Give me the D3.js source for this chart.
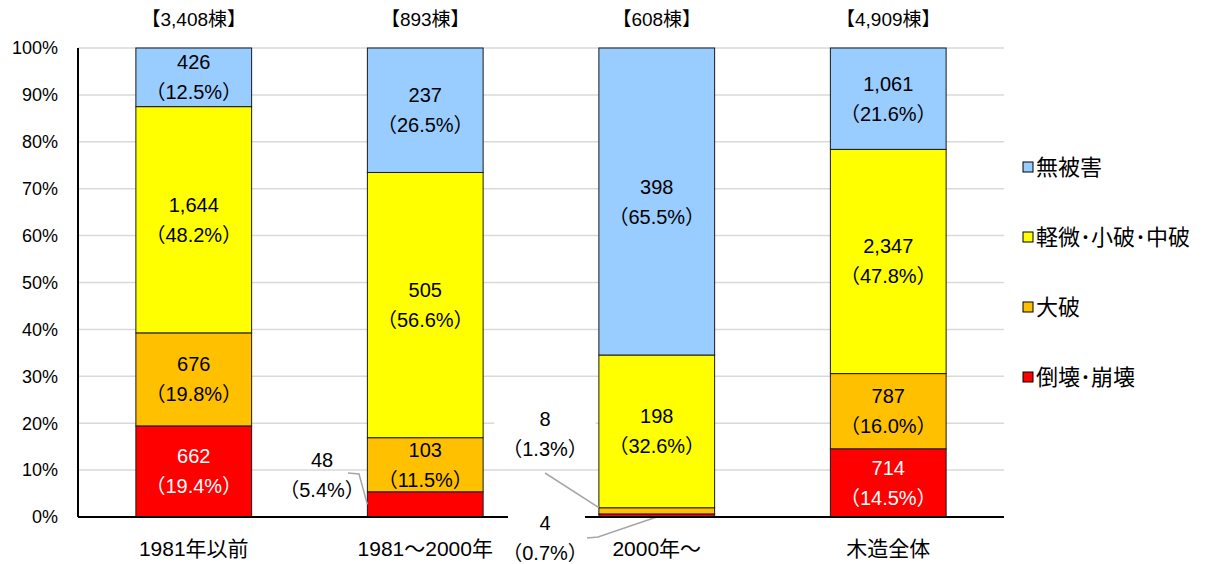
<!DOCTYPE html>
<html>
<head>
<meta charset="utf-8">
<script src="https://cdn.jsdelivr.net/npm/d3@7"></script>
<style>
  body { margin: 0; background: #fff; }
  text { font-family: "Liberation Sans", "Noto Sans CJK JP", sans-serif; }
</style>
</head>
<body>
<div id="chart"></div>
<script>

// categories (construction period) and totals
let categories = ["1981年以前", "1981～2000年", "2000年～", "木造全体"];
let totals = [3408, 893, 608, 4909];

// series, bottom to top
let seriesNames = ["倒壊･崩壊", "大破", "軽微･小破･中破", "無被害"];
let collapse = [662, 48, 4, 714];
let severe = [676, 103, 8, 787];
let minor = [1644, 505, 198, 2347];
let noDamage = [426, 237, 398, 1061];

let yTicks = [0, 10, 20, 30, 40, 50, 60, 70, 80, 90, 100];

let colors = ["#FF0000", "#FFC000", "#FFFF00", "#99CCFF"];

let margin = { top: 48, right: 216, bottom: 47, left: 78 },
	width = 1220 - margin.left - margin.right,
	height = 564 - margin.top - margin.bottom;

let svg = d3.select("#chart")
	.append("svg")
	.attr("width", 1220)
	.attr("height", 564)
	.append("g")
	.attr("transform", "translate(" + margin.left + "," + margin.top + ")");

let x = d3.scaleBand()
	.domain(categories)
	.range([0, width])
	.paddingInner(0.5)
	.paddingOuter(0.25);

let y = d3.scaleLinear()
	.domain([0, 100])
	.range([height, 0]);

// gridlines
svg.append("g")
	.selectAll("line")
	.data(yTicks.slice(1))
	.enter()
	.append("line")
	.attr("x1", 0)
	.attr("x2", width)
	.attr("y1", d => y(d))
	.attr("y2", d => y(d))
	.attr("stroke", "#D9D9D9")
	.attr("stroke-width", 1.5);

// y axis tick labels
svg.append("g")
	.selectAll("text")
	.data(yTicks)
	.enter()
	.append("text")
	.attr("x", -20)
	.attr("y", d => y(d))
	.attr("dy", "0.35em")
	.attr("text-anchor", "end")
	.style("font-size", "18px")
	.attr("fill", "#000")
	.text(d => d + "%");

// build stacked rows
let rows = categories.map(function (c, i) {
	return {
		category: c,
		total: totals[i],
		values: [collapse[i], severe[i], minor[i], noDamage[i]]
	};
});

let segments = [];
rows.forEach(function (r) {
	let acc = 0;
	r.values.forEach(function (v, k) {
		let p0 = acc / r.total * 100;
		acc += v;
		let p1 = acc / r.total * 100;
		segments.push({ category: r.category, k: k, value: v, pct: v / r.total * 100, p0: p0, p1: p1 });
	});
});

svg.append("g")
	.selectAll("rect")
	.data(segments)
	.enter()
	.append("rect")
	.attr("x", d => x(d.category))
	.attr("width", x.bandwidth())
	.attr("y", d => y(d.p1))
	.attr("height", d => y(d.p0) - y(d.p1))
	.attr("fill", d => colors[d.k])
	.attr("stroke", "#1a1a1a")
	.attr("stroke-width", 1);

let fmtN = d3.format(",");
let fmtP = d3.format(".1f");

// labels inside segments (skip the thin ones)
let inner = segments.filter(d => d.pct > 8);
let lab = svg.append("g")
	.selectAll("g")
	.data(inner)
	.enter()
	.append("g")
	.attr("transform", d => "translate(" + (x(d.category) + x.bandwidth() / 2) + "," + y((d.p0 + d.p1) / 2) + ")");

lab.append("text")
	.attr("y", -15)
	.attr("dy", "0.35em")
	.attr("text-anchor", "middle")
	.style("font-size", "20px")
	.attr("fill", d => d.k == 0 ? "#fff" : "#000")
	.text(d => fmtN(d.value));

lab.append("text")
	.attr("y", 15)
	.attr("dy", "0.35em")
	.attr("text-anchor", "middle")
	.style("font-size", "20px")
	.attr("fill", d => d.k == 0 ? "#fff" : "#000")
	.text(d => "（" + fmtP(d.pct) + "%）");

// callout labels for thin segments: [category, series index, label centre x, label centre y, leader line]
let callouts = [
	{ category: "1981～2000年", k: 0, cx: 322, cy: 475, line: [[348, 473], [359, 474]] },
	{ category: "2000年～", k: 1, cx: 545, cy: 434, line: [[545, 473]] },
	{ category: "2000年～", k: 0, cx: 545, cy: 538, line: [[587, 538], [598, 537]] }
];

callouts.forEach(function (c) {
	let seg = segments.find(s => s.category == c.category && s.k == c.k);
	let bx = x(c.category);
	let g = svg.append("g").attr("transform", "translate(" + (-margin.left) + "," + (-margin.top) + ")");
	let bg = g.append("rect").attr("fill", "#fff");
	let t = g.append("g");
	t.append("text")
		.attr("x", c.cx).attr("y", c.cy - 15).attr("dy", "0.35em")
		.attr("text-anchor", "middle").style("font-size", "20px")
		.text(fmtN(seg.value));
	t.append("text")
		.attr("x", c.cx).attr("y", c.cy + 15).attr("dy", "0.35em")
		.attr("text-anchor", "middle").style("font-size", "20px")
		.text("（" + fmtP(seg.pct) + "%）");
	let bb = t.node().getBBox();
	if (c.k == 1) {
		bg.attr("x", bb.x - 8).attr("y", bb.y - 8).attr("width", bb.width + 16).attr("height", bb.height + 16);
	} else if (c.category == "2000年～") {
		bg.attr("x", bb.x + 4).attr("y", bb.y - 4).attr("width", bb.width - 8).attr("height", bb.height + 8);
	}
	// leader line end point at the segment edge
	let endX = margin.left + (c.k == 1 ? bx : (c.category == "2000年～" ? bx + x.bandwidth() / 2 : bx));
	let endY = margin.top + (c.k == 1 ? y(seg.p1) : (c.category == "2000年～" ? y(seg.p0) : y((seg.p0 + seg.p1) / 2)));
	let pts = c.line.concat([[endX, endY]]);
	g.append("path")
		.attr("d", d3.line()(pts))
		.attr("fill", "none")
		.attr("stroke", "#A6A6A6")
		.attr("stroke-width", 1.5);
});

// axis lines
svg.append("line")
	.attr("x1", 0).attr("x2", 0)
	.attr("y1", 0).attr("y2", height)
	.attr("stroke", "#000").attr("stroke-width", 2);

let xAxisLine = svg.append("g");
xAxisLine.append("line")
	.attr("x1", 0).attr("x2", 430)
	.attr("y1", height).attr("y2", height)
	.attr("stroke", "#000").attr("stroke-width", 2);
xAxisLine.append("line")
	.attr("x1", 507).attr("x2", width)
	.attr("y1", height).attr("y2", height)
	.attr("stroke", "#000").attr("stroke-width", 2);

// category labels
svg.append("g")
	.selectAll("text")
	.data(categories)
	.enter()
	.append("text")
	.attr("x", d => x(d) + x.bandwidth() / 2)
	.attr("y", height + 32)
	.attr("dy", "0.35em")
	.attr("text-anchor", "middle")
	.style("font-size", "21px")
	.text(d => d);

// totals on top
svg.append("g")
	.selectAll("text")
	.data(rows)
	.enter()
	.append("text")
	.attr("x", d => x(d.category) + x.bandwidth() / 2)
	.attr("y", -29)
	.attr("dy", "0.35em")
	.attr("text-anchor", "middle")
	.style("font-size", "19px")
	.text(d => "【" + fmtN(d.total) + "棟】");

// legend (top to bottom)
let legend = svg.append("g")
	.attr("transform", "translate(" + (width + 19) + ",0)")
	.selectAll("g")
	.data(d3.range(seriesNames.length).reverse())
	.enter()
	.append("g")
	.attr("transform", (d, i) => "translate(0," + (119 + i * 70) + ")");

legend.append("rect")
	.attr("x", 0).attr("y", -5)
	.attr("width", 10).attr("height", 10)
	.attr("fill", d => colors[d])
	.attr("stroke", "#000").attr("stroke-width", 1);

legend.append("text")
	.attr("x", 13)
	.attr("dy", "0.35em")
	.style("font-size", "22px")
	.text(d => seriesNames[d]);

</script>
</body>
</html>
